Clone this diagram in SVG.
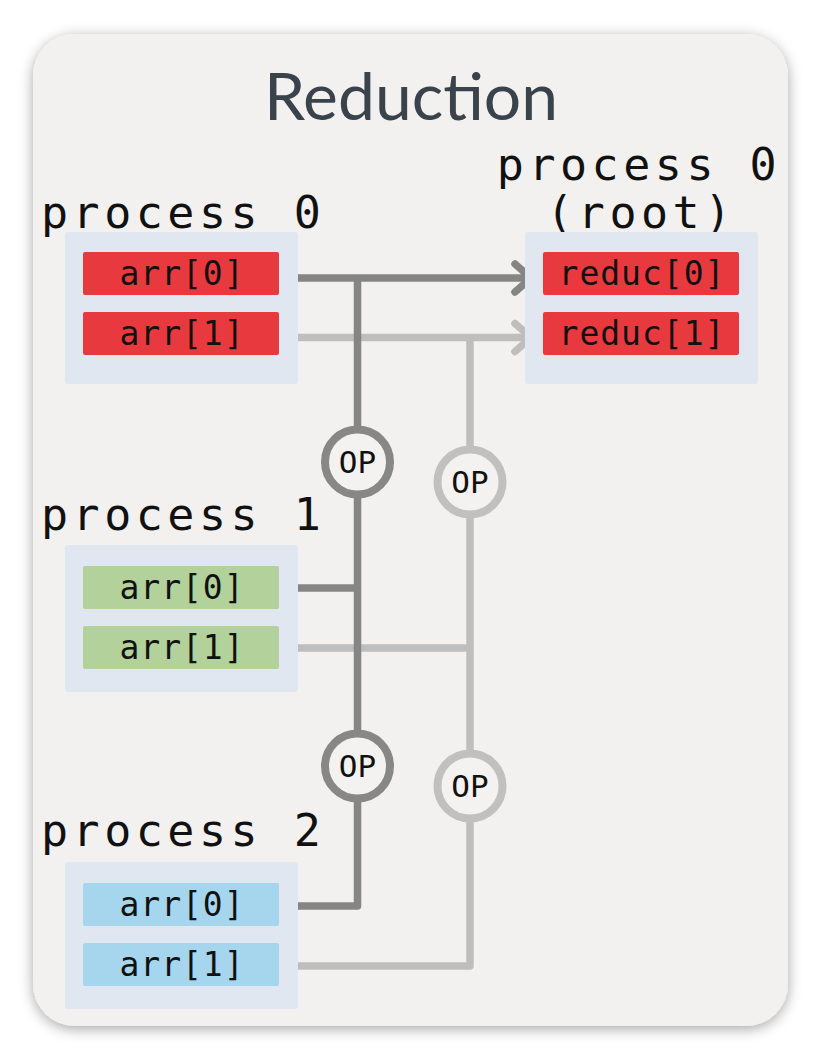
<svg xmlns="http://www.w3.org/2000/svg" width="828" height="1064" viewBox="0 0 828 1064">
<defs>
<filter id="sh" x="-10%" y="-10%" width="120%" height="120%">
<feDropShadow dx="0" dy="3" stdDeviation="7" flood-color="#000" flood-opacity="0.35"/>
</filter>
</defs>
<style>
.plabel{font-family:"DejaVu Sans Mono",monospace;font-size:45px;letter-spacing:4.5px;fill:#111}
.cell{font-family:"DejaVu Sans Mono",monospace;font-size:33px;letter-spacing:1px;fill:#111;text-anchor:middle}
.op{font-family:"DejaVu Sans Mono",monospace;font-size:31px;fill:#111;text-anchor:middle}
.box{fill:#e1e7f0}
.red{fill:#e8393e}
.green{fill:#b3d19a}
.blue{fill:#a6d5ee}
.dark{stroke:#858585;stroke-width:7.5;fill:none;stroke-linejoin:round}
.light{stroke:#bebebe;stroke-width:7.5;fill:none;stroke-linejoin:round}
.cdark{stroke:#878787;stroke-width:8;fill:#f3f2f1}
.clight{stroke:#c0c0c0;stroke-width:8;fill:#f3f2f1}
</style>
<rect x="33" y="34" width="755" height="992" rx="42" fill="#f2f1f0" filter="url(#sh)"/>
<text x="411" y="120" font-family="Lato, 'Noto Sans', sans-serif" font-size="66" fill="#3a424b" text-anchor="middle">Reduction</text>

<g id="connectors">
<path class="light" d="M298 337.5 H530"/>
<path class="light" d="M515 323.5 L531 337.5 L515 351.5" stroke-linecap="round"/>
<path class="light" d="M470 337.5 V966 H298"/>
<path class="light" d="M298 648 H470"/>
<path class="dark" d="M298 278 H530"/>
<path class="dark" d="M515 264 L531 278 L515 292" stroke-linecap="round"/>
<path class="dark" d="M357.5 278 V906 H298"/>
<path class="dark" d="M298 588 H357.5"/>
</g>

<g id="op1"><circle class="cdark" cx="357.5" cy="462" r="32.5"/><text class="op" x="357.5" y="473">OP</text></g>
<g id="op2"><circle class="clight" cx="470" cy="482" r="32.5"/><text class="op" x="470" y="493">OP</text></g>
<g id="op3"><circle class="cdark" cx="357.5" cy="766" r="32.5"/><text class="op" x="357.5" y="777">OP</text></g>
<g id="op4"><circle class="clight" cx="470" cy="786" r="32.5"/><text class="op" x="470" y="797">OP</text></g>

<g id="process0">
<text class="plabel" x="41" y="228">process 0</text>
<rect class="box" x="65" y="232" width="233" height="152" rx="3"/>
<rect class="red" x="83" y="252" width="196" height="43" rx="2"/>
<text class="cell" x="182" y="285">arr[0]</text>
<rect class="red" x="83" y="312" width="196" height="43" rx="2"/>
<text class="cell" x="182" y="345">arr[1]</text>
</g>

<g id="root">
<text class="plabel" x="639" y="180" text-anchor="middle">process 0</text>
<text class="plabel" x="641" y="228" text-anchor="middle">(root)</text>
<rect class="box" x="525" y="232" width="233" height="152" rx="3"/>
<rect class="red" x="543" y="252" width="196" height="43" rx="2"/>
<text class="cell" x="642" y="285">reduc[0]</text>
<rect class="red" x="543" y="312" width="196" height="43" rx="2"/>
<text class="cell" x="642" y="345">reduc[1]</text>
</g>

<g id="process1">
<text class="plabel" x="41" y="530">process 1</text>
<rect class="box" x="65" y="545" width="233" height="147" rx="3"/>
<rect class="green" x="83" y="566" width="196" height="43" rx="2"/>
<text class="cell" x="182" y="599">arr[0]</text>
<rect class="green" x="83" y="626" width="196" height="43" rx="2"/>
<text class="cell" x="182" y="659">arr[1]</text>
</g>

<g id="process2">
<text class="plabel" x="41" y="846">process 2</text>
<rect class="box" x="65" y="862" width="233" height="147" rx="3"/>
<rect class="blue" x="83" y="883" width="196" height="43" rx="2"/>
<text class="cell" x="182" y="916">arr[0]</text>
<rect class="blue" x="83" y="943" width="196" height="43" rx="2"/>
<text class="cell" x="182" y="976">arr[1]</text>
</g>
</svg>
